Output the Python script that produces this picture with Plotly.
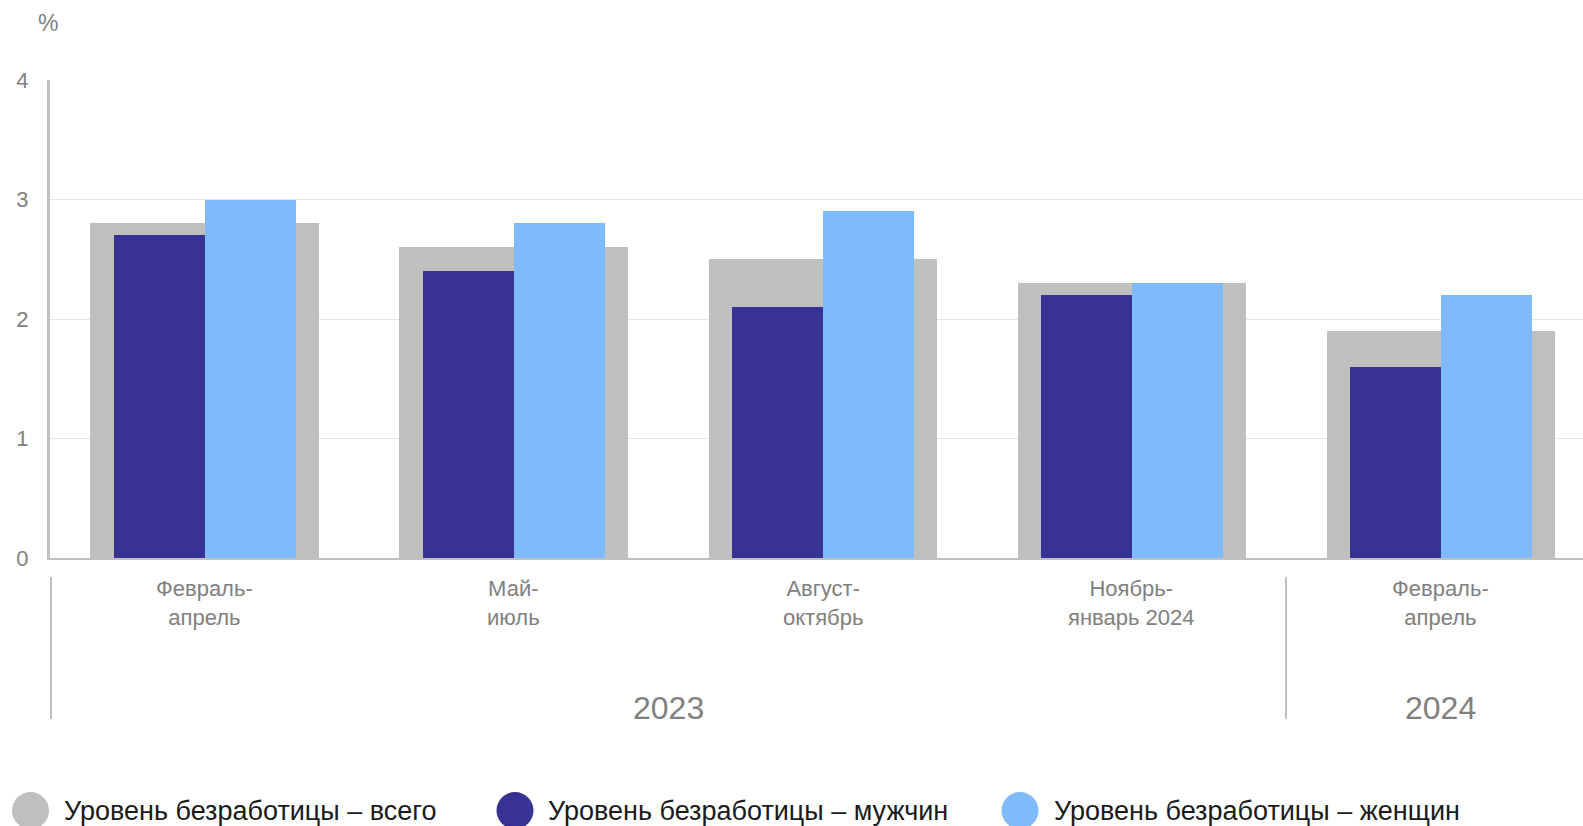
import plotly.graph_objects as go

categories = ["Февраль-<br>апрель", "Май-<br>июль", "Август-<br>октябрь", "Ноябрь-<br>январь 2024", "Февраль-<br>апрель"]
years = ["2023", "2024"]
year_spans = [(0, 3), (4, 4)]
total = [2.8, 2.6, 2.5, 2.3, 1.9]
men = [2.7, 2.4, 2.1, 2.2, 1.6]
women = [3.0, 2.8, 2.9, 2.3, 2.2]
series_names = ["Уровень безработицы – всего", "Уровень безработицы – мужчин", "Уровень безработицы – женщин"]
colors = ["#bfbfbf", "#373395", "#7fbbfb"]
y_ticks = [0, 1, 2, 3, 4]

W, H = 1583, 826
ML, MR, MT, MB = 50, 0, 80, 268
PW, PH = W - ML - MR, H - MT - MB
XR = [-0.5, 4.461]
FONT = "Liberation Sans, Arial, sans-serif"

def px_x(p):
    return (p - ML) / PW

def px_y(p):
    return (H - MB - p) / PH

xs = list(range(len(categories)))

fig = go.Figure()
fig.add_trace(go.Bar(x=xs, y=total, width=0.738, offset=-0.369, marker=dict(color=colors[0], line_width=0),
                     name=series_names[0], showlegend=False))
fig.add_trace(go.Bar(x=xs, y=men, width=0.2945, offset=-0.2945, marker=dict(color=colors[1], line_width=0),
                     name=series_names[1], showlegend=False))
fig.add_trace(go.Bar(x=xs, y=women, width=0.2945, offset=0.0, marker=dict(color=colors[2], line_width=0),
                     name=series_names[2], showlegend=False))

annotations = []
shapes = []

# category labels
for i, c in enumerate(categories):
    annotations.append(dict(x=i, y=px_y(603), xref="x", yref="paper", text=c, showarrow=False,
                            font=dict(family=FONT, size=22, color="#808080"), xanchor="center", yanchor="middle"))

# year labels and separators
sep_positions = [XR[0]]
for (a, b), yr in zip(year_spans, years):
    left = a - 0.5
    right = b + 0.5
    annotations.append(dict(x=(left + right) / 2, y=px_y(708),
                            xref="x", yref="paper", text=yr, showarrow=False,
                            font=dict(family=FONT, size=32, color="#808080"), xanchor="center", yanchor="middle"))
    if a > 0:
        sep_positions.append(left)

for s in sep_positions:
    xp = (s - XR[0]) / (XR[1] - XR[0])
    if s == XR[0]:
        xp = px_x(ML + 1)
    shapes.append(dict(type="line", xref="paper", yref="paper", x0=xp, x1=xp, y0=px_y(577), y1=px_y(719),
                       line=dict(color="#c0c0c0", width=2)))

# % label
annotations.append(dict(x=px_x(48), y=px_y(23), xref="paper", yref="paper", text="%", showarrow=False,
                        font=dict(family=FONT, size=23, color="#808080"), xanchor="center", yanchor="middle"))

# legend
leg_circle_x = [30.5, 515, 1020]
leg_text_x = [62, 546, 1052]
for cx, tx, name, col in zip(leg_circle_x, leg_text_x, series_names, colors):
    shapes.append(dict(type="circle", xref="paper", yref="paper", xsizemode="pixel", ysizemode="pixel",
                       xanchor=px_x(cx), yanchor=px_y(810.5), x0=-18.5, x1=18.5, y0=-18.5, y1=18.5,
                       fillcolor=col, line_width=0))
    annotations.append(dict(x=px_x(tx), y=px_y(811), xref="paper", yref="paper", text=name, showarrow=False,
                            font=dict(family=FONT, size=27, color="#1a1a1a"), xanchor="left", yanchor="middle"))

fig.update_layout(
    width=W, height=H, margin=dict(l=ML, r=MR, t=MT, b=MB),
    paper_bgcolor="white", plot_bgcolor="white",
    barmode="overlay", bargap=0,
    showlegend=False,
    annotations=annotations, shapes=shapes,
    xaxis=dict(type="linear", range=XR, showticklabels=False, showgrid=False, zeroline=False,
               showline=True, linecolor="#c0c0c0", linewidth=2, ticks=""),
    yaxis=dict(range=[0, 4], tickvals=y_ticks, showgrid=True, gridcolor="#e6e6e6", gridwidth=1, zeroline=False,
               showline=True, linecolor="#c0c0c0", linewidth=3, ticks="", ticklabelstandoff=14,
               tickfont=dict(family=FONT, size=22, color="#808080")),
)

fig.write_html("out.html", config={"displayModeBar": False},
               post_script="document.body.style.margin='0';document.body.style.overflow='hidden';")
